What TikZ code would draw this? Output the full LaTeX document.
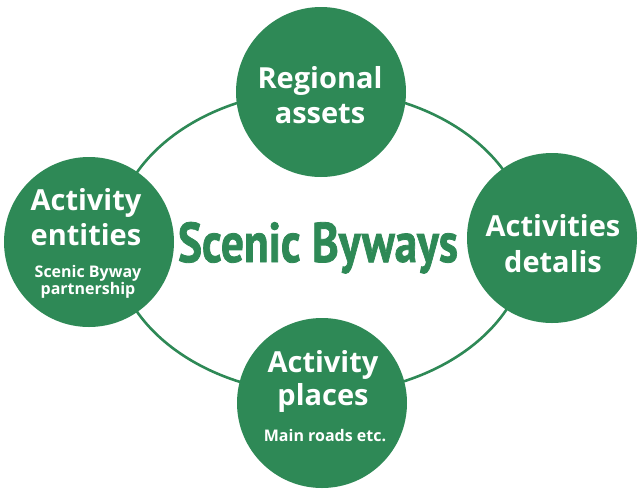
\documentclass[tikz,border=0pt]{standalone}
\usepackage{fontspec}
\setmainfont{Open Sans}
\newfontfamily\titlefont[FakeBold=1.5]{PT Sans}
\definecolor{sgreen}{RGB}{46,137,86}
\begin{document}
\begin{tikzpicture}[x=1pt,y=-1pt,
  bubble/.style={circle,fill=sgreen,minimum size=170pt,inner sep=0pt},
  big/.style={anchor=base,text=white,font=\fontsize{29}{30}\selectfont\bfseries,inner sep=0pt},
  small/.style={anchor=base,text=white,font=\fontsize{16}{17}\selectfont\bfseries,inner sep=0pt},
  ring/.style={draw=sgreen,line width=2.6pt}]
\useasboundingbox (0,0) rectangle (640,488);
\coordinate (c) at (321,242);
\draw[ring] (c) ellipse [x radius=207, y radius=152];
\node[bubble] (top) at (321,92) {};
\node[bubble] (left) at (89,242) {};
\node[bubble] (right) at (552,238) {};
\node[bubble] (bottom) at (322,403) {};
\node[big] (t1) at (320,88) {Regional};
\node[big] (t2) at (320,123) {assets};
\node[big] (l1) at (86,210) {Activity};
\node[big] (l2) at (86,245) {entities};
\node[small] (l3) at (88,277) {Scenic Byway};
\node[small] (l4) at (88,294) {partnership};
\node[big] (r1) at (553,236) {Activities};
\node[big] (r2) at (553,272) {detalis};
\node[big] (b1) at (323,372) {Activity};
\node[big] (b2) at (323,405) {places};
\node[small] (b3) at (325,441) {Main roads etc.};
\node[anchor=base,text=sgreen,inner sep=0pt] (title) at (318,262)
  {\resizebox{280pt}{\height}{\titlefont\fontsize{56}{56}\selectfont\bfseries Scenic Byways}};
\end{tikzpicture}
\end{document}
